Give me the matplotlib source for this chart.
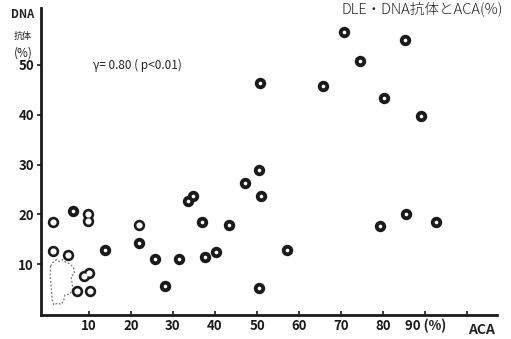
import matplotlib.pyplot as plt

plt.rcParams['font.family'] = ['Noto Sans CJK JP', 'DejaVu Sans']

# ACA (%) vs DNA antibody (%)
solid_x = [70.7, 85.2, 74.5, 50.7, 65.7, 80.2, 89.0, 50.5, 47.1, 50.9, 85.5, 79.3, 92.6,
           43.3, 36.9, 37.6, 40.2, 57.1, 50.5, 33.5, 34.8, 21.9, 25.7, 31.4, 28.1, 13.8, 6.2]
solid_y = [56.7, 55.1, 50.7, 46.3, 45.7, 43.3, 39.8, 28.8, 26.2, 23.7, 20.1, 17.7, 18.5,
           17.9, 18.5, 11.5, 12.5, 12.9, 5.2, 22.7, 23.7, 14.3, 11.1, 11.1, 5.6, 12.9, 20.7]
open_x = [21.9, 1.4, 1.4, 5.0, 9.8, 9.8, 8.8, 10.0, 7.1, 10.2]
open_y = [17.9, 18.5, 12.7, 11.9, 18.7, 20.0, 7.6, 8.3, 4.6, 4.6]

# dotted cloud drawn around the cluster near the origin
cloud_x = [0.9, 1.5, 2.3, 3.0, 3.8, 4.6, 5.4, 6.4, 6.6, 5.8, 6.2, 5.5, 4.3,
           4.0, 3.4, 2.6, 1.7, 1.3, 1.1, 0.8, 0.9]
cloud_y = [9.6, 10.4, 10.9, 10.5, 10.9, 10.3, 10.1, 9.3, 8.2, 7.5, 5.0, 4.0, 3.8,
           2.6, 1.9, 2.2, 1.8, 2.8, 5.0, 7.5, 9.6]

xticks = [10, 20, 30, 40, 50, 60, 70, 80, 90, 100]
xlabels = ['10', '20', '30', '40', '50', '60', '70', '80', '90 (%)', '']
yticks = [10, 20, 30, 40, 50]

fig = plt.figure(figsize=(5.11, 3.39), dpi=100)
ax = fig.add_axes([0.080, 0.071, 0.893, 0.905])
ink = '#1a1a1a'

ax.plot(cloud_x, cloud_y, color='#777777', lw=0.9, ls=(0, (1.5, 1.5)))
ax.plot(solid_x, solid_y, 'o', color=ink, ms=7.2, mec=ink)
ax.plot(solid_x, solid_y, 'o', color='white', ms=1.6, mec='white')
ax.plot(open_x, open_y, 'o', color=ink, ms=7.2, mec=ink)
ax.plot(open_x, open_y, 'o', color='white', ms=3.4, mec='white')

ax.set_xlim(-1.4, 107.1)
ax.set_ylim(-0.2, 61.4)
for s in ['top', 'right']:
    ax.spines[s].set_visible(False)
ax.spines['left'].set_linewidth(2)
ax.spines['bottom'].set_linewidth(2)
ax.spines['left'].set_color(ink)
ax.spines['bottom'].set_color(ink)

ax.set_xticks(xticks)
ax.set_xticklabels(xlabels, fontsize=9.5, fontweight='bold', color='#222222')
ax.set_yticks(yticks)
ax.set_yticklabels([str(v) for v in yticks], fontsize=9.5, fontweight='bold', color='#222222')
ax.tick_params(axis='x', direction='in', length=3, width=1.2, pad=3, colors=ink)
ax.tick_params(axis='y', direction='out', length=3, width=1.2, pad=2, colors=ink)

ax.text(11, 50, 'γ= 0.80 ( p<0.01)', fontsize=8.5, color='#222222', va='center')
fig.text(0.915, 0.015, 'ACA', fontsize=10, fontweight='bold', color='#222222')
fig.text(0.045, 0.975, 'DNA', fontsize=8, fontweight='bold', color='#222222', ha='center', va='top')
fig.text(0.045, 0.893, '抗体', fontsize=6.5, color='#222222', ha='center', va='center')
fig.text(0.045, 0.862, '(%)', fontsize=8.5, color='#222222', ha='center', va='top')
fig.text(0.985, 0.995, 'DLE・DNA抗体とACA(%)', fontsize=10.5, color='#222222',
         ha='right', va='top', fontweight='light')

fig.savefig('out.png', dpi=100, facecolor='white')
